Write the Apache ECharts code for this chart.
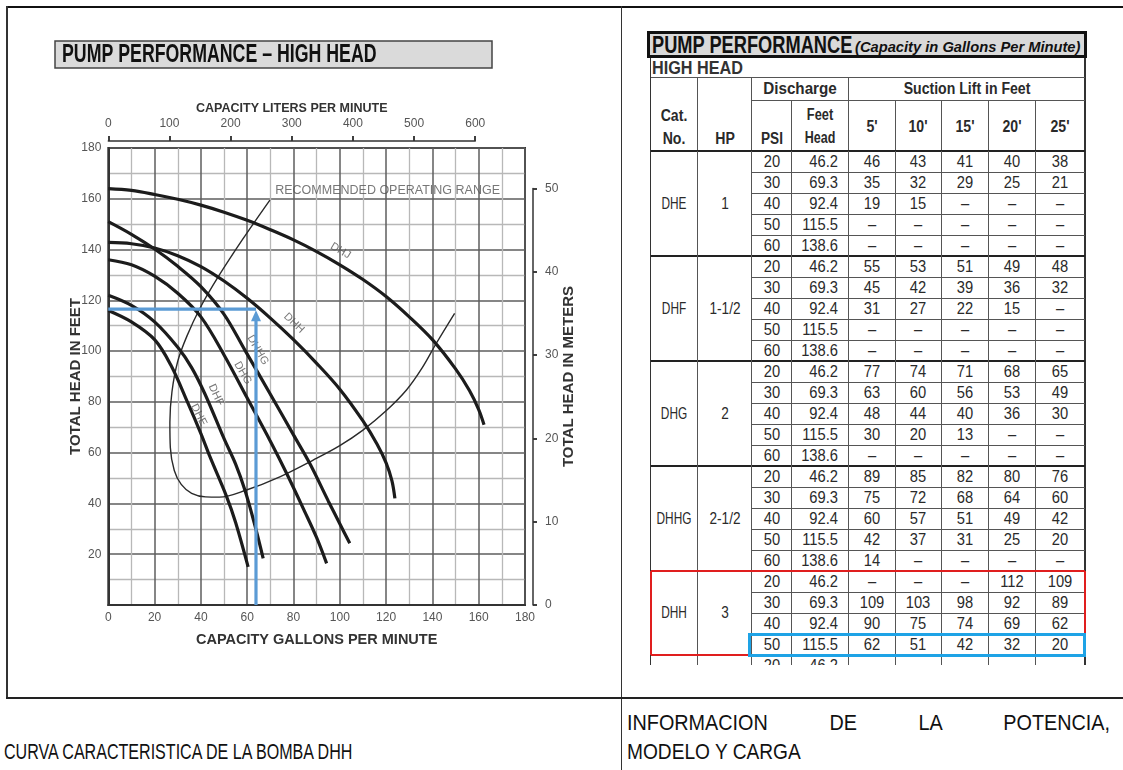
<!DOCTYPE html>
<html>
<head>
<meta charset="utf-8">
<script src="https://cdn.jsdelivr.net/npm/echarts/dist/echarts.min.js"></script>
<style>
  html,body{margin:0;padding:0;background:#fff;}
  body{width:1123px;height:770px;position:relative;overflow:hidden;font-family:"Liberation Sans",Arial,sans-serif;color:#222;}
  #page{position:absolute;left:0;top:0;width:1123px;height:770px;}
  #tbl{position:absolute;left:0;top:0;width:1123px;height:665px;overflow:hidden;}
  #chart{position:absolute;left:0;top:0;width:1123px;height:770px;}
  .t{position:absolute;white-space:nowrap;line-height:1;}
</style>
</head>
<body>
<div id="page"></div>
<div id="tbl"></div>
<div id="chart"></div>
<script>
// ---------------- chart data (gpm, feet) ----------------
const DHJ  = [[0,164],[10,163.3],[20,161.7],[30,159.8],[40,157.5],[50,154.7],[60,151.5],[70,147.8],[80,143.8],[90,139.2],[100,134],[110,128.2],[120,121.5],[130,113.5],[140,104.5],[150,93],[156,84.5],[160,77],[162.3,71]];
const DHH  = [[0,142.8],[10,142.3],[20,140.6],[30,137.6],[40,133.3],[50,127.6],[60,120.8],[70,113],[80,104.5],[90,95.2],[100,85],[110,72.5],[116,63.5],[120,56],[122.5,49],[123.8,42]];
const DHHG = [[0,151],[10,146],[20,140.2],[30,133.4],[40,125.4],[50,114.5],[59,100.4],[70,83],[80,67],[87,55.8],[95,41],[100,32],[104.3,24.3]];
const DHG  = [[0,136],[10,134],[20,129.5],[30,122.8],[40,113.5],[50,98.5],[60,81.5],[70,64.5],[77,51.9],[85,36.5],[90,26.5],[94.3,16.4]];
const DHF  = [[0,122],[10,118],[20,111.5],[30,101.5],[36,93.5],[41.8,83],[50,65.5],[55,55.5],[59,45.3],[63,32.5],[66.9,18.4]];
const DHE  = [[0,116],[10,111.5],[20,104.5],[27,94.5],[34.4,79.5],[40,67.5],[43.9,58.4],[51.1,42.7],[55,32.5],[60.4,15]];
const RECOMMENDED_RANGE = [[69.8,159.5],[58,144],[47.5,129.3],[39.6,116.9],[34,106],[30,96],[27.5,84],[26.6,72],[26.8,62],[28.5,53],[31.5,47.5],[36,44],[42,42.6],[48,42.5],[59.7,45.3],[74.1,50.5],[88.5,57.1],[100,62.8],[110,68.9],[120,76.5],[128.8,84.7],[135.5,93.3],[141.7,103.1],[149.6,114.9]];
const curveNames = ['DHJ','DHH','DHHG','DHG','DHF','DHE'];
const curveSeries = [DHJ, DHH, DHHG, DHG, DHF, DHE];
// label anchors (gpm, feet) and text angle for each curve name
const curveLabelAnchors = [[100.3,139.5],[80.2,111],[64.6,100.4],[58.1,91.4],[46.5,82.7],[39.1,74.8]];
const curveLabelAngles = [-31,-44,-60,-60,-65,-63];
const rangeLabel = 'RECOMMENDED OPERATING RANGE';
const rangeLabelAnchor = [72.1,163.2];
// operating point DHH : 50 psi -> 115.5 ft, 62-64 gpm
const opPointGpm = 63.8;
const opPointFeet = 116.5;
// axes
const gpmMax = 180, feetMax = 180, litersMax = 600, metersMax = 50;
const GAL_TO_L = 3.78541, M_TO_FT = 3.28084;

// ---------------- table data ----------------
const catNos = ['DHE','DHF','DHG','DHHG','DHH'];
const hpValues = ['1','1-1/2','2','2-1/2','3'];
const psiValues = ['20','30','40','50','60'];
const feetHeadValues = ['46.2','69.3','92.4','115.5','138.6'];
const suctionLifts = ["5'","10'","15'","20'","25'"];
const D = '–';
const gpmDHE  = [[46,43,41,40,38],[35,32,29,25,21],[19,15,D,D,D],[D,D,D,D,D],[D,D,D,D,D]];
const gpmDHF  = [[55,53,51,49,48],[45,42,39,36,32],[31,27,22,15,D],[D,D,D,D,D],[D,D,D,D,D]];
const gpmDHG  = [[77,74,71,68,65],[63,60,56,53,49],[48,44,40,36,30],[30,20,13,D,D],[D,D,D,D,D]];
const gpmDHHG = [[89,85,82,80,76],[75,72,68,64,60],[60,57,51,49,42],[42,37,31,25,20],[14,D,D,D,D]];
const gpmDHH  = [[D,D,D,112,109],[109,103,98,92,89],[90,75,74,69,62],[62,51,42,32,20]];
const tableGroups = [gpmDHE,gpmDHF,gpmDHG,gpmDHHG,gpmDHH];

// ---------------- page frame & captions (HTML) ----------------
const P = document.getElementById('page');
function box(parent,x,y,w,h,css){const d=document.createElement('div');d.style.cssText=`position:absolute;left:${x}px;top:${y}px;width:${w}px;height:${h}px;${css||''}`;parent.appendChild(d);return d;}
function hl(parent,x1,x2,y,t,c){return box(parent,x1,y-t/2,x2-x1,t,`background:${c}`);}
function vl(parent,x,y1,y2,t,c){return box(parent,x-t/2,y1,t,y2-y1,`background:${c}`);}
function tx(parent,x,y,s,o){
  o=o||{};
  const d=document.createElement('div');d.className='t';d.textContent=s;
  const al=o.align||'center', sc=o.scale||1;
  const tr= al==='left'?'0':(al==='right'?'-100%':'-50%');
  const org= al==='left'?'0 50%':(al==='right'?'100% 50%':'50% 50%');
  d.style.cssText+=`left:${x}px;top:${y}px;font-size:${o.size||16}px;font-weight:${o.bold?'bold':'normal'};font-style:${o.italic?'italic':'normal'};color:${o.color||'#2a2a2a'};transform:translate(${tr},-50%) scaleX(${sc});transform-origin:${org};`;
  parent.appendChild(d);return d;
}
// outer cell frame
hl(P,6,1123,7,2,'#111');
vl(P,7,6,698,2,'#333');
vl(P,621.5,6,770,1.5,'#333');
hl(P,6,1123,698,1.5,'#222');
// captions
tx(P,4,752,'CURVA CARACTERISTICA DE LA BOMBA DHH',{align:'left',size:22,scale:0.73,color:'#111'});
const capScale=0.9;
const just=box(P,627,709,483/capScale,28,`font-size:22px;line-height:28px;color:#111;text-align:justify;text-align-last:justify;white-space:nowrap;transform:scaleX(${capScale});transform-origin:0 50%;`);
just.textContent='INFORMACION DE LA POTENCIA,';
tx(P,627,752,'MODELO Y CARGA',{align:'left',size:22,scale:0.87,color:'#111'});

// ---------------- table (HTML) ----------------
const T = document.getElementById('tbl');
const colX=[650.7,697.3,751.7,791.7,848.3,895,941.7,988.3,1035,1085];
const rowTop=151, rowH=21;
// title box
box(T,646.7,30.7,440,27.6,'background:#d9d9d9;box-sizing:border-box;border:3px solid #111;');
tx(T,651.5,45,'PUMP PERFORMANCE',{align:'left',size:24,bold:true,scale:0.76,color:'#111'});
tx(T,855,46,'(Capacity in Gallons Per Minute)',{align:'left',size:15,bold:true,italic:true,scale:0.98,color:'#111'});
tx(T,652,68,'HIGH HEAD',{align:'left',size:18,bold:true,scale:0.9,color:'#333'});
// header lines
const lc='#555', oc='#333', gc='#222';
vl(T,colX[0],58.3,665,1.5,oc); vl(T,colX[9],58.3,665,1.5,oc);
hl(T,colX[0],colX[9],77,1,lc);
hl(T,colX[2],colX[9],100.5,1,lc);
[1,2,4].forEach(i=>vl(T,colX[i],77,rowTop,1,lc));
[3,5,6,7,8].forEach(i=>vl(T,colX[i],100.5,rowTop,1,lc));
hl(T,colX[0],colX[9],rowTop,2,gc);
// header texts
tx(T,(colX[2]+colX[4])/2,89,'Discharge',{size:16,bold:true,scale:0.95});
tx(T,(colX[4]+colX[9])/2,89,'Suction Lift in Feet',{size:16,bold:true,scale:0.88});
tx(T,(colX[0]+colX[1])/2,116,'Cat.',{size:16,bold:true,scale:0.88});
tx(T,(colX[0]+colX[1])/2,139,'No.',{size:16,bold:true,scale:0.88});
tx(T,(colX[1]+colX[2])/2,139,'HP',{size:16,bold:true,scale:0.88});
tx(T,(colX[2]+colX[3])/2,139,'PSI',{size:16,bold:true,scale:0.85});
tx(T,(colX[3]+colX[4])/2,115,'Feet',{size:16,bold:true,scale:0.8});
tx(T,(colX[3]+colX[4])/2,138,'Head',{size:16,bold:true,scale:0.78});
suctionLifts.forEach((s,i)=>tx(T,(colX[4+i]+colX[5+i])/2,127,s,{size:16,bold:true,scale:0.88}));
// data rows
let r=0;
tableGroups.forEach((g,gi)=>{
  const gTop=rowTop+r*rowH;
  if(gi>0) hl(T,colX[0],colX[9],gTop,2,gc);
  tx(T,(colX[0]+colX[1])/2,gTop+g.length*rowH/2,catNos[gi],{size:16,scale:0.74});
  tx(T,(colX[1]+colX[2])/2,gTop+g.length*rowH/2,hpValues[gi],{size:16,scale:0.85});
  g.forEach((vals,ri)=>{
    const y=rowTop+(r+ri)*rowH;
    if(ri>0) hl(T,colX[2],colX[9],y,1,lc);
    const cy=y+rowH/2+0.5;
    tx(T,(colX[2]+colX[3])/2,cy,psiValues[ri],{size:16,scale:0.92});
    tx(T,colX[4]-10,cy,feetHeadValues[ri],{size:16,align:'right',scale:0.92});
    vals.forEach((v,vi)=>tx(T,(colX[4+vi]+colX[5+vi])/2,cy,String(v),{size:16,scale:0.92}));
  });
  r+=g.length;
});
// next group (cut off by the page)
const partialTop=rowTop+r*rowH;
hl(T,colX[0],colX[9],partialTop,2,gc);
tx(T,(colX[2]+colX[3])/2,partialTop+rowH/2+0.5,psiValues[0],{size:16,scale:0.92});
tx(T,colX[4]-10,partialTop+rowH/2+0.5,feetHeadValues[0],{size:16,align:'right',scale:0.92});
// vertical lines in data region
for(let i=1;i<9;i++) vl(T,colX[i],rowTop,665,1,lc);
// red & blue highlight boxes
const red='#e01e1e';
const dhhTop=rowTop+20*rowH, dhhBot=rowTop+24*rowH, blueTop=rowTop+23*rowH;
hl(T,colX[0],colX[9],dhhTop,2,red);
vl(T,colX[0],dhhTop,dhhBot,2,red);
vl(T,colX[9],dhhTop,blueTop,2,red);
hl(T,colX[0],colX[2]-3,dhhBot,2,red);
box(T,colX[2]-4,blueTop-1.5,colX[9]-colX[2]+5.5,rowH+3,'box-sizing:border-box;border:3px solid #1ea3e6;');

// ---------------- chart (ECharts) ----------------
const chart = echarts.init(document.getElementById('chart'), null, {renderer:'canvas'});
const FONT = '"Liberation Sans", Arial, sans-serif';
const gx=108.3, gy=148, gw=416.7, gh=457;
const pxPerGpm = gw/gpmMax, pxPerFt = gh/feetMax;
const topW = litersMax/GAL_TO_L*pxPerGpm;
const mH = metersMax*M_TO_FT*pxPerFt;
const black='#1c1c1c';
const series=[];
curveSeries.forEach((d,i)=>{
  series.push({type:'line',name:curveNames[i],xAxisIndex:0,yAxisIndex:0,data:d,smooth:0.35,showSymbol:false,symbol:'none',
    lineStyle:{color:black,width:3.2,cap:'butt'},z:4,silent:true});
});
series.push({type:'line',name:'range',xAxisIndex:0,yAxisIndex:0,data:RECOMMENDED_RANGE,smooth:0.35,showSymbol:false,symbol:'none',
  lineStyle:{color:'#2a2a2a',width:1.4},z:3,silent:true});
series.push({type:'scatter',xAxisIndex:0,yAxisIndex:0,symbolSize:0,z:6,silent:true,
  data:curveNames.map((n,i)=>({name:n,value:curveLabelAnchors[i],label:{rotate:curveLabelAngles[i]}})),
  label:{show:true,position:'inside',formatter:'{b}',fontFamily:FONT,fontSize:11,color:'#555'}});
series.push({type:'scatter',xAxisIndex:0,yAxisIndex:0,symbolSize:0,z:6,silent:true,
  data:[{name:rangeLabel,value:rangeLabelAnchor}],
  label:{show:true,position:'right',distance:0,formatter:'{b}',fontFamily:FONT,fontSize:12.5,color:'#555'}});
// blue operating point construction
series.push({type:'line',xAxisIndex:0,yAxisIndex:0,data:[[0,opPointFeet],[opPointGpm,opPointFeet]],showSymbol:false,symbol:'none',
  lineStyle:{color:'#5b9bd5',width:3.2},z:7,silent:true});
series.push({type:'line',xAxisIndex:0,yAxisIndex:0,symbol:'none',showSymbol:true,
  data:[{value:[opPointGpm,0]},{value:[opPointGpm,opPointFeet-2.6],symbol:'triangle',symbolSize:[10,11],itemStyle:{color:'#5b9bd5'}}],
  lineStyle:{color:'#5b9bd5',width:3.2},itemStyle:{color:'#5b9bd5'},z:7,silent:true});

const option={
  animation:false,
  backgroundColor:'transparent',
  textStyle:{fontFamily:FONT},
  graphic:[
    {type:'rect',shape:{x:55,y:41,width:437,height:27},style:{fill:'#dadada',stroke:'#444',lineWidth:1.5},z:1},
    {type:'text',x:62,y:55.5,scaleX:0.71,style:{text:'PUMP PERFORMANCE – HIGH HEAD',fontFamily:FONT,fontWeight:'bold',fontSize:25,fill:'#111',verticalAlign:'middle',align:'left'},z:2}
  ],
  grid:[
    {left:gx,top:gy,width:gw,height:gh,show:true,borderColor:'#333',borderWidth:2,backgroundColor:'transparent',containLabel:false,outerBoundsMode:'none'},
    {left:gx,top:136,width:topW,height:5,containLabel:false,outerBoundsMode:'none'},
    {left:533,top:gy+gh-mH,width:4,height:mH,containLabel:false,outerBoundsMode:'none'}
  ],
  xAxis:[
    {type:'value',gridIndex:0,min:0,max:gpmMax,interval:20,position:'bottom',
      name:'CAPACITY GALLONS PER MINUTE',nameLocation:'middle',nameGap:27,
      nameTextStyle:{fontFamily:FONT,fontWeight:'bold',fontSize:14.5,color:'#333'},
      axisLine:{show:true,lineStyle:{color:'#333',width:2}},axisTick:{show:false},
      axisLabel:{margin:7,fontSize:12,color:'#555',fontFamily:FONT},
      splitLine:{show:true,lineStyle:{color:'#5e5e5e',width:1.5}},
      minorTick:{show:false,splitNumber:2},
      minorSplitLine:{show:true,lineStyle:{color:'#b8b8b8',width:1.3}}},
    {type:'value',gridIndex:1,min:0,max:litersMax,interval:100,position:'top',
      name:'CAPACITY LITERS PER MINUTE',nameLocation:'middle',nameGap:21,
      nameTextStyle:{fontFamily:FONT,fontWeight:'bold',fontSize:12.5,color:'#333'},
      axisLine:{show:true,lineStyle:{color:'#333',width:1.5}},
      axisTick:{show:true,length:5,lineStyle:{color:'#333',width:1.5}},
      axisLabel:{margin:6,fontSize:12,color:'#555',fontFamily:FONT},
      splitLine:{show:true,lineStyle:{color:'#333',width:1.5}}},
    {type:'value',gridIndex:2,min:0,max:1,show:false}
  ],
  yAxis:[
    {type:'value',gridIndex:0,min:0,max:feetMax,interval:20,position:'left',
      name:'TOTAL HEAD IN FEET',nameLocation:'middle',nameGap:25,nameRotate:90,nameMoveOverlap:false,
      nameTextStyle:{fontFamily:FONT,fontWeight:'bold',fontSize:15,color:'#333'},
      axisLine:{show:true,lineStyle:{color:'#333',width:2}},axisTick:{show:false},
      axisLabel:{margin:7,fontSize:12,color:'#555',fontFamily:FONT,formatter:v=>v===0?'':String(v)},
      splitLine:{show:true,lineStyle:{color:'#5e5e5e',width:1.5}},
      minorTick:{show:false,splitNumber:2},
      minorSplitLine:{show:true,lineStyle:{color:'#b8b8b8',width:1.3}}},
    {type:'value',gridIndex:0,min:0,max:feetMax,position:'right',
      name:'TOTAL HEAD IN METERS',nameLocation:'middle',nameGap:36,nameRotate:90,
      nameTextStyle:{fontFamily:FONT,fontWeight:'bold',fontSize:15,color:'#333'},
      axisLine:{show:false},axisTick:{show:false},axisLabel:{show:false},splitLine:{show:false}},
    {type:'value',gridIndex:1,min:0,max:1,show:false},
    {type:'value',gridIndex:2,min:0,max:metersMax,interval:10,position:'right',
      axisLine:{show:true,lineStyle:{color:'#333',width:1.5}},
      axisTick:{show:true,length:4,lineStyle:{color:'#333',width:1.5}},
      axisLabel:{margin:8,fontSize:12,color:'#555',fontFamily:FONT},
      splitLine:{show:true,lineStyle:{color:'#333',width:1.5}}}
  ],
  series:series
};
chart.setOption(option);
</script>
</body>
</html>
